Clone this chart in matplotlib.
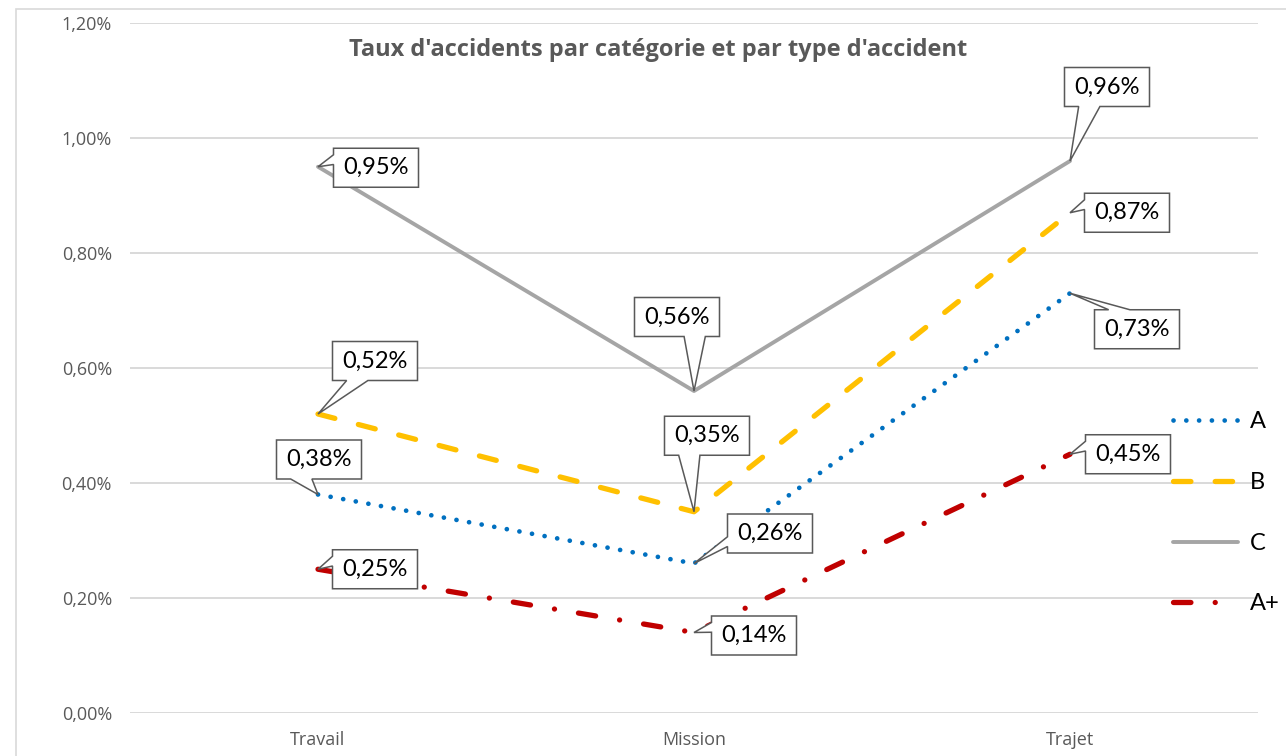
import matplotlib
matplotlib.use("Agg")
import matplotlib.pyplot as plt
from matplotlib.patches import Polygon, Rectangle
from matplotlib.transforms import IdentityTransform

# ---------------- data ----------------
categories = ["Travail", "Mission", "Trajet"]
series_names = ["A", "B", "C", "A+"]
values_A = [0.38, 0.26, 0.73]
values_B = [0.52, 0.35, 0.87]
values_C = [0.95, 0.56, 0.96]
values_Aplus = [0.25, 0.14, 0.45]
y_ticks = [0.0, 0.2, 0.4, 0.6, 0.8, 1.0, 1.2]
title = "Taux d'accidents par catégorie et par type d'accident"

# ---------------- figure ----------------
W, H = 1286, 756
fig = plt.figure(figsize=(W / 100, H / 100), dpi=100)
fig.patch.set_facecolor("white")

L, R, T, B = 130, 1258, 23, 713
ax = fig.add_axes([L / W, 1 - B / H, (R - L) / W, (B - T) / H])
ax.set_xlim(-0.5, 2.5)
ax.set_ylim(0, 1.2)

for s in ax.spines.values():
    s.set_visible(False)
ax.set_yticks(y_ticks)
ax.set_yticklabels([f"{v:.2f}%".replace(".", ",") for v in y_ticks])
ax.set_xticks(range(len(categories)))
ax.set_xticklabels(categories)
ax.tick_params(axis="both", length=0, colors="#595959", labelsize=13)
ax.tick_params(axis="y", pad=13)
ax.tick_params(axis="x", pad=13)
for lab in ax.get_xticklabels() + ax.get_yticklabels():
    lab.set_fontfamily("Open Sans")
ax.grid(axis="y", color="#D9D9D9", lw=1.4)
ax.set_axisbelow(True)

x = list(range(len(categories)))
styles = {
    "A": dict(color="#0070C0", lw=3.4, linestyle=(0, (0.01, 2.7)),
              dash_capstyle="round"),
    "B": dict(color="#FFC000", lw=3.8, linestyle=(0, (3.3, 4.6)),
              dash_capstyle="round"),
    "C": dict(color="#A5A5A5", lw=2.8, linestyle="-",
              solid_capstyle="round"),
    "A+": dict(color="#C00000", lw=3.8, linestyle=(0, (3.3, 4.6, 0.01, 4.6)),
               dash_capstyle="round"),
}
data = {"A": values_A, "B": values_B, "C": values_C, "A+": values_Aplus}
for name in series_names:
    ax.plot(x, data[name], label=name, zorder=3, **styles[name])

leg = ax.legend(loc="center left", bbox_to_anchor=(1173 / W, 1 - 513 / H),
                bbox_transform=fig.transFigure, frameon=False,
                handlelength=2.75, handletextpad=0.5,
                labelspacing=1.68, borderpad=0, borderaxespad=0,
                prop={"family": "Lato", "size": 17})

fig.text(658 / W, 1 - 50 / H, title, ha="center", va="center",
         fontsize=17, fontweight="bold", color="#595959",
         fontfamily="Open Sans")

# chart border
fig.add_artist(Rectangle((16 / W, -0.1), 1.2, 1 - 9 / H + 0.1,
                         transform=fig.transFigure, fill=False,
                         edgecolor="#D9D9D9", lw=1.2, zorder=0))

# ---------------- callouts ----------------
# box-centre offsets from the point, in pixels (x right, y down)
offsets = {
    "A": [(1, -35), (76, -30), (67, 36)],
    "B": [(57, -53), (13, -76), (57, 0)],
    "C": [(58, 1), (-17, -74), (37, -74)],
    "A+": [(57, 0), (60, 3), (58, 0)],
}

fig.canvas.draw()
bw, bh = 85, 39


def callout(xv, yv, text, off):
    px, py = ax.transData.transform((xv, yv))
    ptx, pty = px, H - py
    cx, cy = ptx + off[0], pty + off[1]
    x0, x1 = cx - bw / 2, cx + bw / 2
    y0, y1 = cy - bh / 2, cy + bh / 2
    dxp, dyp = ptx - cx, pty - cy
    xg1, xg2 = (7, 10) if dxp > 0 else (2, 5)
    yg1, yg2 = (7, 10) if dyp > 0 else (2, 5)
    xa, xb = x0 + bw * xg1 / 12, x0 + bw * xg2 / 12
    ya, yb = y0 + bh * yg1 / 12, y0 + bh * yg2 / 12
    dq = dxp * bh / bw
    pt = (ptx, pty)
    if abs(dq) > abs(dyp):
        if dxp > 0:
            pts = [(x0, y0), (x1, y0), (x1, ya), pt, (x1, yb), (x1, y1), (x0, y1)]
        else:
            pts = [(x0, y0), (x1, y0), (x1, y1), (x0, y1), (x0, yb), pt, (x0, ya)]
    else:
        if dyp > 0:
            pts = [(x0, y0), (x1, y0), (x1, y1), (xb, y1), pt, (xa, y1), (x0, y1)]
        else:
            pts = [(x0, y0), (xa, y0), pt, (xb, y0), (x1, y0), (x1, y1), (x0, y1)]
    disp = [(a, H - b) for a, b in pts]
    fig.add_artist(Polygon(disp, closed=True, facecolor="white",
                           edgecolor="#595959", lw=1.1,
                           transform=IdentityTransform(), zorder=5,
                           joinstyle="miter"))
    fig.text(cx, H - cy, text, transform=IdentityTransform(), ha="center",
             va="center", fontsize=17, fontfamily="Lato", color="black",
             zorder=6)


for name in series_names:
    for i, v in enumerate(data[name]):
        callout(i, v, f"{v:.2f}%".replace(".", ","), offsets[name][i])

fig.savefig("out.png", dpi=100)
